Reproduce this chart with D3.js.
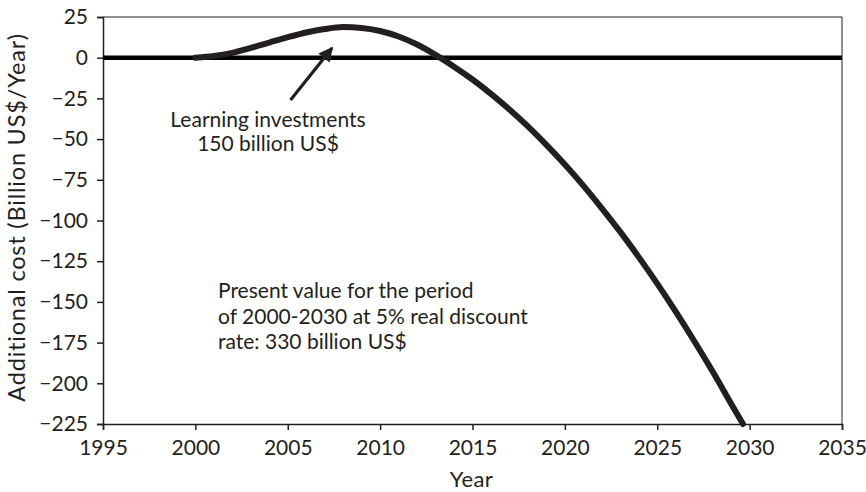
<!DOCTYPE html>
<html><head><meta charset="utf-8">
<script src="https://cdn.jsdelivr.net/npm/d3@7"></script>
<style>body{margin:0;background:#fff;} text{font-family:Lato, "Open Sans", sans-serif; fill:#231f20;}</style>
</head><body>
<svg id="c" width="866" height="492"></svg>
<script>
const years = [2000,2001,2002,2003,2004,2005,2006,2007,2008,2009,2010,2011,2012,2013,2014,2015,2016,2017,2018,2019,2020,2021,2022,2023,2024,2025,2026,2027,2028,2029,2029.64];
const cost  = [0,1,3,6,9.3,12.6,15.5,17.6,18.8,18.3,16.4,13.0,8.1,1.75,-5.5,-13.4,-22.2,-31.8,-42.2,-53.5,-65.6,-78.6,-92.5,-107,-122.5,-138.8,-156,-174,-192.8,-212.5,-225];
const xTicks = [1995,2000,2005,2010,2015,2020,2025,2030,2035];
const yTicks = [25,0,-25,-50,-75,-100,-125,-150,-175,-200,-225];
const annotation1 = ["Learning investments","150 billion US$"];
const annotation2 = ["Present value for the period","of 2000-2030 at 5% real discount","rate: 330 billion US$"];
const xTitle = "Year";
const yTitle = "Additional cost (Billion US$/Year)";

const svg = d3.select("#c");
const L=103, R=842, T=17, B=424;
const x = d3.scaleLinear().domain([1995,2035]).range([L,R]);
const y = d3.scaleLinear().domain([-225,25]).range([B,T]);
const ink="#231f20";

// frame top/right
svg.append("line").attr("x1",L).attr("x2",R).attr("y1",T).attr("y2",T).attr("stroke",ink).attr("stroke-width",1);
svg.append("line").attr("x1",R).attr("x2",R).attr("y1",T).attr("y2",B).attr("stroke",ink).attr("stroke-width",1);

const fmt = d => d<0 ? "\u2212"+Math.abs(d) : String(d);
const ya = svg.append("g").attr("transform",`translate(${L},0)`)
  .call(d3.axisLeft(y).tickValues(yTicks).tickSize(6).tickPadding(9).tickFormat(fmt));
const xa = svg.append("g").attr("transform",`translate(0,${B})`)
  .call(d3.axisBottom(x).tickValues(xTicks).tickSize(6).tickPadding(10).tickFormat(d3.format("d")));
[ya,xa].forEach(g=>{
  g.select(".domain").attr("stroke",ink).attr("stroke-width",1.5);
  g.selectAll(".tick line").attr("stroke",ink).attr("stroke-width",1.5);
  g.selectAll("text").attr("font-size",21).style("font-family","Lato").attr("fill",ink);
});

// zero line
svg.append("line").attr("x1",L).attr("x2",R).attr("y1",y(0)).attr("y2",y(0)).attr("stroke","#000").attr("stroke-width",4.5);

// curve
const line = d3.line().x((d,i)=>x(years[i])).y(d=>y(d)).curve(d3.curveMonotoneX);
svg.append("path").attr("d",line(cost)).attr("fill","none").attr("stroke",ink).attr("stroke-width",6).attr("stroke-linecap","round");

// arrow
svg.append("defs").append("marker").attr("id","ah").attr("viewBox","0 0 10 10").attr("refX",9).attr("refY",5)
  .attr("markerWidth",5).attr("markerHeight",4.5).attr("orient","auto").attr("markerUnits","strokeWidth")
  .append("path").attr("d","M0,0 L10,5 L0,10 Z").attr("fill",ink);
svg.append("line").attr("x1",x(2005.15)).attr("y1",y(-26)).attr("x2",x(2007.4)).attr("y2",y(6)).attr("stroke",ink).attr("stroke-width",3.2).attr("marker-end","url(#ah)");

// annotations
const a1 = svg.append("text").attr("text-anchor","middle").attr("font-size",21);
annotation1.forEach((t,i)=>a1.append("tspan").attr("x",268).attr("y",127+i*24).text(t));
const a2 = svg.append("text").attr("text-anchor","start").attr("font-size",21);
annotation2.forEach((t,i)=>a2.append("tspan").attr("x",218).attr("y",298+i*25.5).text(t));

svg.append("text").attr("x",471.5).attr("y",487).attr("text-anchor","middle").attr("font-size",22).attr("letter-spacing",0.4).text(xTitle);
svg.append("text").attr("transform",`translate(25,217.5) rotate(-90)`).attr("text-anchor","middle").attr("font-size",23.5).attr("letter-spacing",0.8).text(yTitle);
</script>
</body></html>
